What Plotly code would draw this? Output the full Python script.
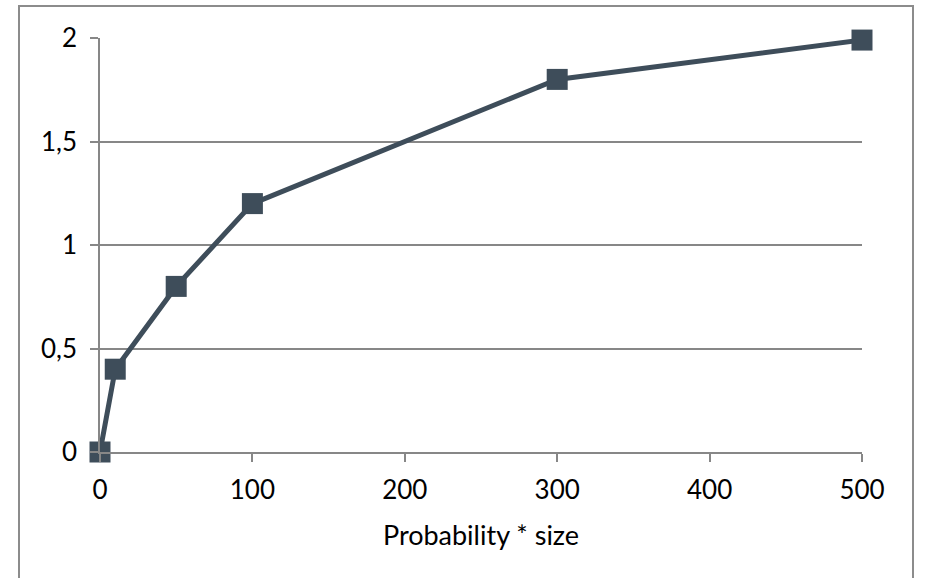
import plotly.graph_objects as go

x_vals = [0, 10, 50, 100, 300, 500]
y_vals = [0, 0.4, 0.8, 1.2, 1.8, 1.99]
x_ticks = [0, 100, 200, 300, 400, 500]
y_ticks = [0, 0.5, 1, 1.5, 2]
x_title = "Probability * size"

W, H = 925, 578
L, R, T, B = 100, 63, 38, 126
pw, ph = W - L - R, H - T - B

def px_x(p):
    return (p - L) / pw

def px_y(p):
    return (H - B - p) / ph

fig = go.Figure()
fig.add_trace(go.Scatter(
    x=x_vals, y=y_vals, mode="lines+markers",
    line=dict(color="#3e4d5a", width=5),
    marker=dict(symbol="square", size=21, color="#3e4d5a"),
    cliponaxis=False, showlegend=False,
))

grid = "#878787"
font = dict(family="Lato, 'Open Sans', sans-serif", size=26, color="#000000")
tfont = dict(family="Lato, 'Open Sans', sans-serif", size=27, color="#000000")
fig.update_layout(
    width=W, height=H,
    margin=dict(l=L, r=R, t=T, b=B),
    paper_bgcolor="white", plot_bgcolor="white",
    separators=", ",
    font=font,
    xaxis=dict(range=[0, 500], tickvals=x_ticks, showgrid=False, zeroline=False,
               showline=True, linecolor=grid, linewidth=1.5,
               ticks="outside", ticklen=8, tickcolor=grid, tickwidth=1.5,
               ticklabelstandoff=6, tickfont=font,
               title=dict(text=x_title, font=tfont, standoff=22)),
    yaxis=dict(range=[0, 2], tickvals=y_ticks, showgrid=True, gridcolor=grid, gridwidth=1.5,
               zeroline=False, showline=True, linecolor=grid, linewidth=1.5,
               ticks="outside", ticklen=8, tickcolor=grid, tickwidth=1.5,
               ticklabelstandoff=8, tickfont=font),
    shapes=[dict(type="rect", xref="paper", yref="paper",
                 x0=px_x(19), x1=px_x(913), y0=px_y(600), y1=px_y(6),
                 line=dict(color="#8c8c8c", width=2), fillcolor="rgba(0,0,0,0)",
                 layer="below")],
)

fig.write_html("out.html")
